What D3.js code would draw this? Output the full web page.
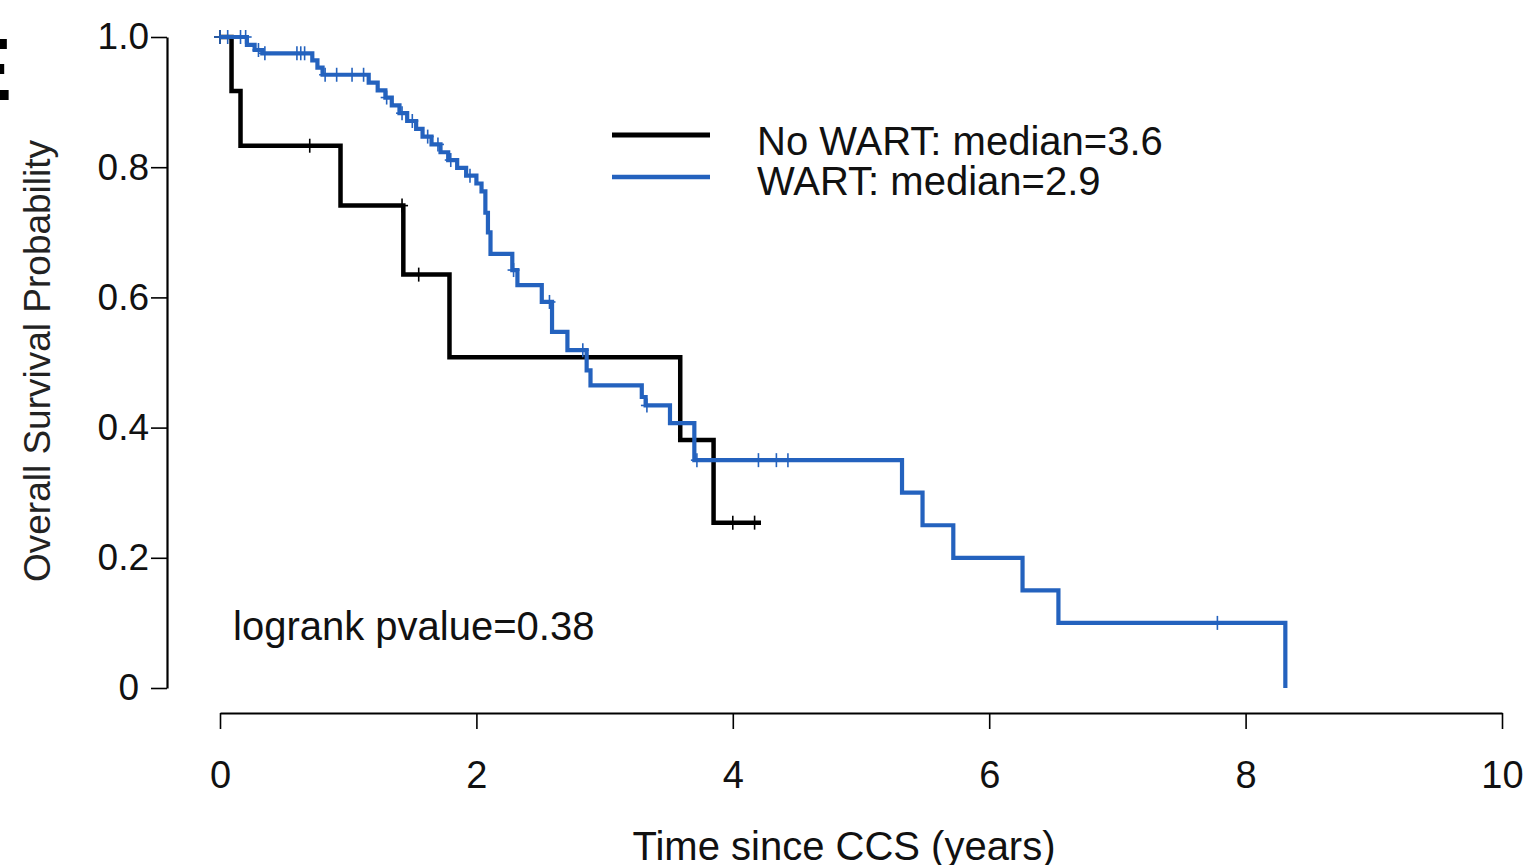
<!DOCTYPE html>
<html>
<head>
<meta charset="utf-8">
<script src="https://cdn.jsdelivr.net/npm/d3@7"></script>
<style>
  body { margin: 0; background: #fff; }
  text { font-family: "Liberation Sans", Arial, sans-serif; }
</style>
</head>
<body>
<script>
// ---- data ----
// No WART group: drop times (years) and survival after each drop
var noWartTimes = [0.09, 0.16, 0.94, 1.43, 1.79, 3.59, 3.85];
var noWartSurv  = [0.917, 0.833, 0.741, 0.635, 0.508, 0.381, 0.254];
var noWartCensor = [0.0, 0.70, 1.42, 1.55, 4.00, 4.17];
var noWartEnd = 4.22;

// WART group
var wartTimes = [0.21, 0.27, 0.33, 0.72, 0.76, 0.80, 1.16, 1.23, 1.29, 1.34, 1.40, 1.46,
                 1.53, 1.58, 1.65, 1.72, 1.78, 1.85, 1.92, 2.00, 2.04, 2.07, 2.09, 2.11,
                 2.28, 2.32, 2.51, 2.59, 2.71, 2.86, 2.89, 3.29, 3.32, 3.51, 3.70,
                 5.32, 5.48, 5.72, 6.26, 6.54, 8.31];
var wartSurv  = [0.988, 0.980, 0.975, 0.964, 0.953, 0.942, 0.930, 0.918, 0.907, 0.895, 0.883, 0.871,
                 0.859, 0.847, 0.835, 0.823, 0.811, 0.799, 0.787, 0.775, 0.763, 0.730, 0.700, 0.667,
                 0.642, 0.619, 0.593, 0.547, 0.519, 0.488, 0.465, 0.447, 0.434, 0.407, 0.350,
                 0.300, 0.250, 0.200, 0.150, 0.100, 0];
var wartCensor = [0.0, 0.06, 0.16, 0.20, 0.30, 0.35, 0.60, 0.63, 0.66, 0.82, 0.91, 1.03,
                  1.12, 1.30, 1.42, 1.50, 1.62, 1.70, 1.80, 1.95, 2.29, 2.57, 2.83,
                  3.33, 3.72, 4.20, 4.34, 4.43, 7.78];
var wartEnd = 8.31;

var xTicks = [0, 2, 4, 6, 8, 10];
var yTicks = [0, 0.2, 0.4, 0.6, 0.8, 1.0];
var legendLabels = ["No WART: median=3.6", "WART: median=2.9"];
var pvalueLabel = "logrank pvalue=0.38";

var black = "#000", blue = "#2462be";

var svg = d3.select("body").append("svg")
    .attr("width", 1536)
    .attr("height", 865);

var x = d3.scaleLinear().domain([0, 10]).range([220, 1502]);
var y = d3.scaleLinear().domain([0, 1]).range([688, 37]);

// cropped panel letter at the left edge
svg.append("text")
    .attr("x", 12).attr("y", 100)
    .attr("text-anchor", "end")
    .style("font-size", "89px").style("font-weight", "bold")
    .text("E");

// y axis
var yAxis = svg.append("g")
    .attr("transform", "translate(167,0)")
    .call(d3.axisLeft(y).tickValues(yTicks)
        .tickFormat(function(d) { return d === 0 ? "0" : d3.format(".1f")(d); })
        .tickSize(16).tickSizeOuter(0).tickPadding(2));
yAxis.selectAll("text")
    .style("font-size", "37px").attr("fill", "#111")
    .attr("dx", function(d) { return d === 0 ? -10 : 0; });

// x axis
var xAxis = svg.append("g")
    .attr("transform", "translate(0,713)")
    .call(d3.axisBottom(x).tickValues(xTicks).tickSize(16).tickSizeOuter(0).tickPadding(32));
xAxis.selectAll("text").style("font-size", "38px").attr("fill", "#111");

svg.selectAll(".domain").attr("stroke-width", 2.2);
svg.selectAll(".tick line").attr("stroke-width", 1.6);

// axis titles
svg.append("text")
    .attr("transform", "translate(50,361) rotate(-90)")
    .attr("text-anchor", "middle")
    .style("font-size", "37px").attr("fill", "#222")
    .text("Overall Survival Probability");

svg.append("text")
    .attr("x", 844).attr("y", 860)
    .attr("text-anchor", "middle")
    .style("font-size", "40px").attr("fill", "#111")
    .text("Time since CCS (years)");

// survival at time t for a step curve
function survAt(times, surv, t) {
  var s = 1;
  for (var i = 0; i < times.length; i++) {
    if (times[i] <= t) s = surv[i];
  }
  return s;
}

// build the step points: start at (0,1), one point per drop, then the end
function stepPoints(times, surv, end) {
  var pts = [[0, 1]];
  for (var i = 0; i < times.length; i++) pts.push([times[i], surv[i]]);
  var last = pts[pts.length - 1];
  if (end > last[0]) pts.push([end, last[1]]);
  return pts;
}

var line = d3.line()
    .x(function(d) { return x(d[0]); })
    .y(function(d) { return y(d[1]); })
    .curve(d3.curveStepAfter);

function drawCurve(times, surv, end, censor, color, width) {
  svg.append("path")
      .datum(stepPoints(times, surv, end))
      .attr("fill", "none")
      .attr("stroke", color)
      .attr("stroke-width", width)
      .attr("d", line);

  var marks = svg.append("g");
  censor.forEach(function(t) {
    var cx = x(t), cy = y(survAt(times, surv, t));
    marks.append("line")
        .attr("x1", cx).attr("x2", cx)
        .attr("y1", cy - 7).attr("y2", cy + 7)
        .attr("stroke", color).attr("stroke-width", 1.6);
    marks.append("line")
        .attr("x1", cx - 6).attr("x2", cx + 6)
        .attr("y1", cy).attr("y2", cy)
        .attr("stroke", color).attr("stroke-width", 1.6);
  });
}

drawCurve(noWartTimes, noWartSurv, noWartEnd, noWartCensor, black, 4.5);
drawCurve(wartTimes, wartSurv, wartEnd, wartCensor, blue, 4.2);

// legend
var legend = svg.append("g");
[black, blue].forEach(function(c, i) {
  legend.append("line")
      .attr("x1", 612).attr("x2", 710)
      .attr("y1", 135 + i * 42).attr("y2", 135 + i * 42)
      .attr("stroke", c).attr("stroke-width", i === 0 ? 5 : 4.5);
  legend.append("text")
      .attr("x", 757).attr("y", 155 + i * 40)
      .style("font-size", "40px").attr("fill", "#111")
      .text(legendLabels[i]);
});

svg.append("text")
    .attr("x", 233).attr("y", 640)
    .style("font-size", "40px").attr("fill", "#111")
    .text(pvalueLabel);
</script>
</body>
</html>
